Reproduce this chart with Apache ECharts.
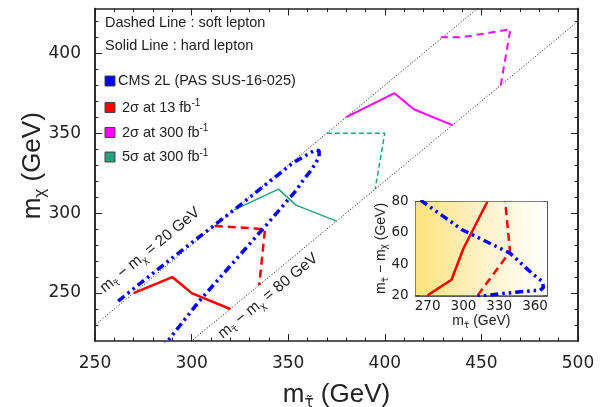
<!DOCTYPE html>
<html>
<head>
<meta charset="utf-8">
<script src="https://cdn.jsdelivr.net/npm/echarts@6/dist/echarts.min.js"></script>
<style>
  html, body { margin: 0; padding: 0; background: #fff; }
  #chart { width: 614px; height: 407px; }
</style>
</head>
<body>
<div id="chart"></div>
<script>
  // main panel: [m_stau, m_chi] in GeV
  var cmsLimit = [[262, 245], [290, 272], [323, 303], [352, 331], [359, 336], [364, 339.5], [366, 339], [366, 335],
    [362, 327], [358, 321], [354, 314], [339, 293], [304, 245], [287, 219], [268, 188]]
  var sig13Hard = [[270, 250], [290, 260], [300, 250], [320, 240]]
  var sig13Soft = [[312, 292], [338, 290], [335, 255]]
  var sig300Hard = [[380, 360], [405, 375], [415, 365], [435, 355]]
  var sig300Soft = [[429, 410], [440, 410], [465, 415], [460, 380]]
  var five300Hard = [[322, 302], [345, 315], [354, 305], [375, 295]]
  var five300Soft = [[370, 350], [400, 350], [395, 315]]
  var diag20 = [[230, 210], [470, 450]]
  var diag80 = [[290, 210], [530, 450]]

  // inset: [m_stau, m_stau - m_chi]
  var insetCms = [[264, 81], [299, 62], [339, 47], [359, 33], [366, 29], [367, 25], [364, 23], [358, 23], [331, 21], [321, 20], [310, 19]]
  var insetHard = [[270, 20], [290, 30], [300, 50], [320, 80]]
  var insetSoft = [[312, 20], [339, 48], [335, 80]]

  var yMajor = [250, 300, 350, 400]
  var yMinor = [230, 240, 260, 270, 280, 290, 310, 320, 330, 340, 360, 370, 380, 390, 410, 420]
  var insetXTicks = [270, 300, 330, 360]

  var myChart = echarts.init(document.getElementById('chart'))
  var frame = {lineStyle: {color: '#222', width: 1.5}}
  var tickFont = 'DejaVu Sans'
  var nameFont = 'Liberation Sans'

  function sideAxis (opt) {
    // axis used only for frame + ticks
    return Object.assign({
      type: 'value', axisLine: frame, axisLabel: {show: false}, splitLine: {show: false}
    }, opt)
  }

  function line (data, color, width, type, xi, yi) {
    return {
      type: 'line', data: data, xAxisIndex: xi || 0, yAxisIndex: yi || 0,
      symbol: 'none', silent: true, animation: false, z: xi ? 8 : 2,
      lineStyle: {color: color, width: width, type: type || 'solid'}
    }
  }

  function nameRich (big, small, lh) {
    return {
      m: {fontFamily: nameFont, fontSize: big, color: '#222', lineHeight: lh, verticalAlign: 'middle'},
      s: {fontFamily: nameFont, fontSize: small, color: '#222', lineHeight: small * 0.8, verticalAlign: 'bottom'},
      t: {fontFamily: 'DejaVu Sans', fontSize: small * 0.9, color: '#222', lineHeight: small * 0.8, verticalAlign: 'bottom'},
      u: {fontFamily: nameFont, fontSize: big, color: '#222', lineHeight: lh, verticalAlign: 'middle'}
    }
  }

  var option = {
    animation: false,
    grid: [
      {left: 95, right: 36, top: 8.5, bottom: 66, outerBoundsMode: 'none'},
      {left: 415.7, top: 201.7, width: 131.3, height: 93.6, outerBoundsMode: 'none',
        show: true, borderWidth: 0, z: 5,
        backgroundColor: new echarts.graphic.LinearGradient(0, 0, 1, 0, [
          {offset: 0, color: '#fde37a'},
          {offset: 0.5, color: '#fef2c8'},
          {offset: 1, color: '#ffffff'}
        ])}
    ],
    xAxis: [
      {type: 'value', gridIndex: 0, position: 'bottom', min: 250, max: 500, interval: 50,
        axisLine: frame, splitLine: {show: false},
        axisTick: {inside: true, length: 7, lineStyle: {color: '#222'}},
        minorTick: {show: true, splitNumber: 5, length: 3.5, lineStyle: {color: '#222'}},
        axisLabel: {fontFamily: tickFont, fontSize: 17, color: '#222', margin: 14},
        name: '{m|m}{t|τ̃}{u| (GeV)}', nameLocation: 'middle', nameGap: 38, nameMoveOverlap: false,
        nameTextStyle: {rich: nameRich(26, 17, 32)}},
      sideAxis({gridIndex: 0, position: 'top', min: 250, max: 500, interval: 50,
        axisTick: {inside: true, length: 7, lineStyle: {color: '#222'}},
        minorTick: {show: true, splitNumber: 5, length: 3.5, lineStyle: {color: '#222'}}}),
      {type: 'value', gridIndex: 1, position: 'bottom', min: 260, max: 370,
        axisLine: frame, splitLine: {show: false},
        axisTick: {inside: true, length: 4, customValues: insetXTicks, lineStyle: {color: '#222'}},
        axisLabel: {fontFamily: tickFont, fontSize: 13.5, color: '#222', margin: 4, customValues: insetXTicks},
        name: '{m|m}{t|τ̃}{u| (GeV)}', nameLocation: 'middle', nameGap: 17, nameMoveOverlap: false,
        nameTextStyle: {rich: nameRich(14, 10, 18)}},
      sideAxis({gridIndex: 1, position: 'top', min: 260, max: 370,
        axisTick: {inside: true, length: 4, customValues: insetXTicks, lineStyle: {color: '#222'}}})
    ],
    yAxis: [
      {type: 'value', gridIndex: 0, position: 'left', min: 220, max: 428,
        axisLine: frame, splitLine: {show: false},
        axisTick: {inside: true, length: 7, customValues: yMajor, lineStyle: {color: '#222'}},
        axisLabel: {fontFamily: tickFont, fontSize: 17, color: '#222', margin: 14, customValues: yMajor},
        name: '{m|m}{s|χ}{u| (GeV)}', nameLocation: 'middle', nameGap: 46, nameRotate: 90, nameMoveOverlap: false,
        nameTextStyle: {padding: [0, 0, 0, 18], rich: nameRich(26, 17, 32)}},
      sideAxis({gridIndex: 0, position: 'left', min: 220, max: 428,
        axisTick: {inside: true, length: 3.5, customValues: yMinor, lineStyle: {color: '#222'}}}),
      sideAxis({gridIndex: 0, position: 'right', min: 220, max: 428,
        axisTick: {inside: true, length: 7, customValues: yMajor, lineStyle: {color: '#222'}}}),
      sideAxis({gridIndex: 0, position: 'right', min: 220, max: 428,
        axisTick: {inside: true, length: 3.5, customValues: yMinor, lineStyle: {color: '#222'}}}),
      {type: 'value', gridIndex: 1, position: 'left', min: 20, max: 80, interval: 20,
        axisLine: frame, splitLine: {show: false},
        axisTick: {inside: true, length: 4, lineStyle: {color: '#222'}},
        axisLabel: {fontFamily: tickFont, fontSize: 13.5, color: '#222', margin: 7},
        name: '{m|m}{t|τ̃}{u| − m}{s|χ}{u| (GeV)}', nameLocation: 'middle', nameGap: 26, nameRotate: 90,
        nameMoveOverlap: false,
        nameTextStyle: {rich: nameRich(14, 10, 18)}},
      sideAxis({gridIndex: 1, position: 'right', min: 20, max: 80, interval: 20,
        axisTick: {inside: true, length: 4, lineStyle: {color: '#222'}}})
    ],
    series: [
      line(diag20, '#111', 1, [1, 2]),
      line(diag80, '#111', 1, [1, 2]),
      line(five300Hard, '#23a27b', 1.5),
      line(five300Soft, '#23a27b', 1.5, [5, 3]),
      line(sig300Hard, '#ff00ff', 2),
      line(sig300Soft, '#ff00ff', 2, [7, 5]),
      line(sig13Hard, '#ff0000', 2.5),
      line(sig13Soft, '#ff0000', 2.5, [8, 5]),
      line(cmsLimit, '#0000ff', 3.5, [8, 4, 2.5, 4, 2.5, 4]),
      line(insetHard, '#ff0000', 2.5, 'solid', 2, 4),
      line(insetSoft, '#ff0000', 2.5, [8, 5], 2, 4),
      line(insetCms, '#0000ff', 3.5, [8, 4, 2.5, 4, 2.5, 4], 2, 4)
    ]
  }

  // legend and line annotations
  var legend = [
    {color: '#0000ff', y: 81, x: 118, text: 'CMS 2L (PAS SUS-16-025)'},
    {color: '#ff0000', y: 107.5, x: 122, text: '2σ at 13 fb{sup|-1}'},
    {color: '#ff00ff', y: 132.5, x: 122, text: '2σ at 300 fb{sup|-1}'},
    {color: '#23a27b', y: 157, x: 122, text: '5σ at 300 fb{sup|-1}'}
  ]
  var legendFont = '14.5px "Liberation Sans"'
  var graphics = [
    {type: 'text', left: 105, top: 15, z: 10, style: {text: 'Dashed Line : soft lepton', font: legendFont, fill: '#222'}},
    {type: 'text', left: 105, top: 38, z: 10, style: {text: 'Solid Line : hard lepton', font: legendFont, fill: '#222'}}
  ]
  legend.forEach(function (item) {
    graphics.push({type: 'rect', z: 10, shape: {x: 105, y: item.y - 5, width: 10, height: 10},
      style: {fill: item.color, stroke: '#444', lineWidth: 1}})
    graphics.push({type: 'text', z: 10, x: item.x, y: item.y,
      style: {text: item.text, font: legendFont, fill: '#222', verticalAlign: 'middle',
        rich: {sup: {fontSize: 10, verticalAlign: 'top', lineHeight: 18, fontFamily: 'Liberation Sans'}}}})
  })
  var diagRich = {
    s: {fontSize: 10, lineHeight: 8, verticalAlign: 'bottom', fontFamily: 'Liberation Sans'},
    t: {fontSize: 9.5, lineHeight: 8, verticalAlign: 'bottom', fontFamily: 'DejaVu Sans'},
    u: {fontSize: 15.5, lineHeight: 20, verticalAlign: 'middle', fontFamily: 'Liberation Sans'}
  }
  graphics.push({type: 'text', z: 10, x: 150, y: 250, rotation: 0.69,
    style: {text: '{u|m}{t|τ̃}{u| − m}{s|χ}{u| = 20 GeV}', rich: diagRich, fill: '#222', align: 'center', verticalAlign: 'middle'}})
  graphics.push({type: 'text', z: 10, x: 268, y: 296, rotation: 0.69,
    style: {text: '{u|m}{t|τ̃}{u| − m}{s|χ}{u| = 80 GeV}', rich: diagRich, fill: '#222', align: 'center', verticalAlign: 'middle'}})
  option.graphic = graphics

  myChart.setOption(option)
  window.onresize = function () {
    myChart.resize()
  }
</script>
</body>
</html>
